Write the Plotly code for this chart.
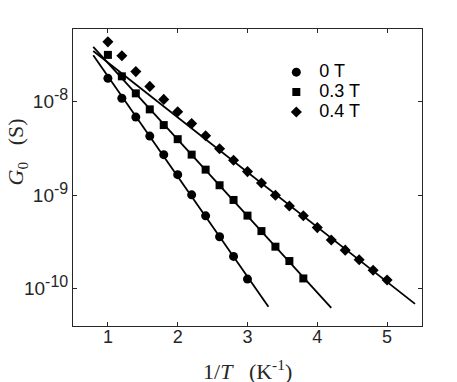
import plotly.graph_objects as go

# 1/T values (K^-1)
inv_T_0T = [1.0, 1.2, 1.4, 1.6, 1.8, 2.0, 2.2, 2.4, 2.6, 2.8, 3.0]
inv_T_03T = [1.0, 1.2, 1.4, 1.6, 1.8, 2.0, 2.2, 2.4, 2.6, 2.8, 3.0, 3.2, 3.4, 3.6, 3.8]
inv_T_04T = [1.0, 1.2, 1.4, 1.6, 1.8, 2.0, 2.2, 2.4, 2.6, 2.8, 3.0,
             3.2, 3.4, 3.6, 3.8, 4.0, 4.2, 4.4, 4.6, 4.8, 5.0]

# G0 (S)
G_0T = [1.78e-8, 1.09e-8, 6.85e-9, 4.29e-9, 2.72e-9, 1.66e-9, 1.01e-9,
        6.03e-10, 3.60e-10, 2.22e-10, 1.27e-10]
G_03T = [3.17e-8, 1.87e-8, 1.23e-8, 8.29e-9, 5.63e-9, 3.98e-9, 2.72e-9, 1.88e-9,
         1.28e-9, 8.91e-10, 6.06e-10, 4.14e-10, 2.82e-10, 1.98e-10, 1.29e-10]
G_04T = [4.37e-8, 3.11e-8, 2.10e-8, 1.46e-8, 1.06e-8, 7.82e-9, 5.84e-9, 4.32e-9,
         3.15e-9, 2.37e-9, 1.79e-9, 1.35e-9, 1.00e-9, 7.68e-10, 6.03e-10, 4.51e-10,
         3.32e-10, 2.59e-10, 2.04e-10, 1.58e-10, 1.24e-10]

# fitted lines (end points)
fit_x_0T = [0.79, 3.30]
fit_G_0T = [3.14e-8, 6.41e-11]
fit_x_03T = [0.79, 4.20]
fit_G_03T = [3.86e-8, 6.25e-11]
fit_x_04T = [0.79, 5.40]
fit_G_04T = [3.49e-8, 6.90e-11]

labels = ['0 T', '0.3 T', '0.4 T']
y_ticks = [1e-10, 1e-9, 1e-8]
y_exp = ['-10', '-9', '-8']
x_ticks = [1, 2, 3, 4, 5]

AX = '#262626'
SANS = 'Liberation Sans, Arial, sans-serif'
SERIF = 'Liberation Serif, Times New Roman, serif'

y_ticktext = ['10<sup><span style="font-size:16px">%s</span></sup>' % e for e in y_exp]

fig = go.Figure()

for fx, fy in [(fit_x_0T, fit_G_0T), (fit_x_03T, fit_G_03T), (fit_x_04T, fit_G_04T)]:
    fig.add_trace(go.Scatter(x=fx, y=fy, mode='lines', showlegend=False,
                             line=dict(color='black', width=1.8), hoverinfo='skip'))

series = [
    (inv_T_0T, G_0T, 'circle', 9),
    (inv_T_03T, G_03T, 'square', 8),
    (inv_T_04T, G_04T, 'diamond', 8.5),
]
for (x, y, sym, sz), name in zip(series, labels):
    fig.add_trace(go.Scatter(
        x=x, y=y, mode='markers',
        name='<span style="font-size:18px">%s</span>' % name,
        marker=dict(symbol=sym, size=sz, color='black', line=dict(width=0)),
    ))

# the page body has an 8px margin, so the figure is a bit smaller than the window
fig.update_layout(
    width=449, height=374,
    margin=dict(l=65, r=35, t=21, b=56),
    plot_bgcolor='white', paper_bgcolor='white',
    font=dict(family=SANS, size=18, color=AX),
    legend=dict(x=0.574, y=0.905, xanchor='left', yanchor='top',
                bgcolor='rgba(0,0,0,0)', borderwidth=0,
                font=dict(size=13, color='black', family=SANS),
                itemwidth=36),
    annotations=[
        dict(text='<i>G</i><sub>0</sub>&nbsp;&nbsp;&nbsp;(S)', textangle=-90,
             xref='paper', yref='paper', x=-0.16, y=0.585,
             xanchor='center', yanchor='middle', showarrow=False,
             font=dict(family=SERIF, size=22, color=AX)),
        dict(text='1/<i>T</i>&nbsp;&nbsp;&nbsp;(K<sup>-1</sup>)',
             xref='paper', yref='paper', x=0.5, y=-0.149,
             xanchor='center', yanchor='middle', showarrow=False,
             font=dict(family=SERIF, size=22, color=AX)),
    ],
)

fig.update_xaxes(range=[0.5, 5.5], tickvals=x_ticks, ticks='inside', ticklen=4,
                 tickcolor=AX, tickfont=dict(family=SANS, size=18, color=AX),
                 ticklabelstandoff=-6,
                 showline=True, linecolor=AX, linewidth=1,
                 mirror='ticks', showgrid=False, zeroline=False)
fig.update_yaxes(type='log', range=[-10.398, -7.222], tickvals=y_ticks,
                 ticktext=y_ticktext, ticks='inside', ticklen=4, tickcolor=AX,
                 tickfont=dict(family=SANS, size=19, color=AX),
                 showline=True, linecolor=AX, linewidth=1, mirror='ticks',
                 showgrid=False, zeroline=False)

fig.write_html("out.html")
